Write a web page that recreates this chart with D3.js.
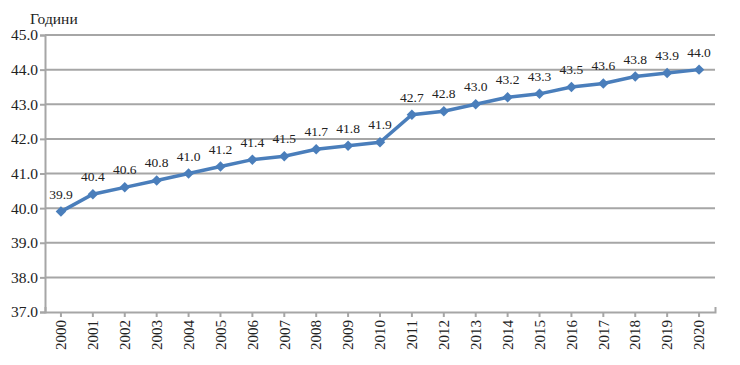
<!DOCTYPE html>
<html>
<head>
<meta charset="utf-8">
<script src="https://cdn.jsdelivr.net/npm/d3@7"></script>
<style>
  body { margin: 0; background: #fff; }
  svg { display: block; }
  svg text { font-family: "Liberation Serif", "Times New Roman", serif !important; }
</style>
</head>
<body>
<svg id="chart" width="740" height="365"></svg>
<script>
// years and the average age values
var years = ['2000','2001','2002','2003','2004','2005','2006','2007','2008','2009','2010',
             '2011','2012','2013','2014','2015','2016','2017','2018','2019','2020'];
var values = [39.9, 40.4, 40.6, 40.8, 41.0, 41.2, 41.4, 41.5, 41.7, 41.8, 41.9,
              42.7, 42.8, 43.0, 43.2, 43.3, 43.5, 43.6, 43.8, 43.9, 44.0];
var yTicks = [37, 38, 39, 40, 41, 42, 43, 44, 45];
var yTitle = 'Години';

var margin = {top: 35, right: 25, bottom: 53, left: 45};
var svg = d3.select('#chart');
var width = 740 - margin.left - margin.right,
    height = 365 - margin.top - margin.bottom;

var g = svg.append('g').attr('transform', 'translate(' + margin.left + ',' + margin.top + ')');

var x = d3.scaleBand().domain(years).range([0, width]);
var y = d3.scaleLinear().domain([37, 45]).range([height, 0]);

var gridColor = '#a6a6a6';

// horizontal gridlines
g.selectAll('.grid').data(yTicks.slice(1)).enter()
    .append('line')
    .attr('x1', 0).attr('x2', width)
    .attr('y1', function(d) { return y(d); })
    .attr('y2', function(d) { return y(d); })
    .attr('stroke', gridColor).attr('stroke-width', 2);

// y axis
var yAxis = g.append('g').call(d3.axisLeft(y).tickValues(yTicks).tickFormat(d3.format('.1f')).tickSize(5));
yAxis.select('.domain').attr('stroke', gridColor).attr('stroke-width', 2);
yAxis.selectAll('.tick line').attr('stroke', gridColor).attr('stroke-width', 2);
yAxis.selectAll('text').attr('font-size', 15.5).attr('fill', '#222').attr('x', -7);

// x axis
var xAxis = g.append('g').attr('transform', 'translate(0,' + height + ')')
    .call(d3.axisBottom(x).tickSize(5).tickSizeOuter(-5));
xAxis.select('.domain').attr('stroke', gridColor).attr('stroke-width', 2);
xAxis.selectAll('.tick line').attr('stroke', gridColor).attr('stroke-width', 2);
xAxis.selectAll('text')
    .attr('font-size', 15).attr('fill', '#222')
    .attr('transform', 'rotate(-90)')
    .attr('x', -8).attr('y', 0).attr('dy', '0.35em')
    .style('text-anchor', 'end');

// title
svg.append('text').attr('x', 30).attr('y', 24)
    .attr('font-size', 15.5).attr('fill', '#222').text(yTitle);

// line
var line = d3.line()
    .x(function(d, i) { return x(years[i]) + x.bandwidth() / 2; })
    .y(function(d) { return y(d); });

g.append('path').datum(values)
    .attr('d', line)
    .attr('fill', 'none')
    .attr('stroke', '#4a7ebb')
    .attr('stroke-width', 3.5);

// diamond markers
g.selectAll('.mark').data(values).enter()
    .append('path')
    .attr('d', d3.symbol().type(d3.symbolDiamond2).size(70))
    .attr('transform', function(d, i) {
        return 'translate(' + (x(years[i]) + x.bandwidth() / 2) + ',' + y(d) + ')';
    })
    .attr('fill', '#4a7ebb');

// data labels
g.selectAll('.lbl').data(values).enter()
    .append('text')
    .attr('x', function(d, i) { return x(years[i]) + x.bandwidth() / 2; })
    .attr('y', function(d) { return y(d) - 13; })
    .attr('text-anchor', 'middle')
    .attr('font-size', 13.5).attr('fill', '#222')
    .text(function(d) { return d.toFixed(1); });
</script>
</body>
</html>
